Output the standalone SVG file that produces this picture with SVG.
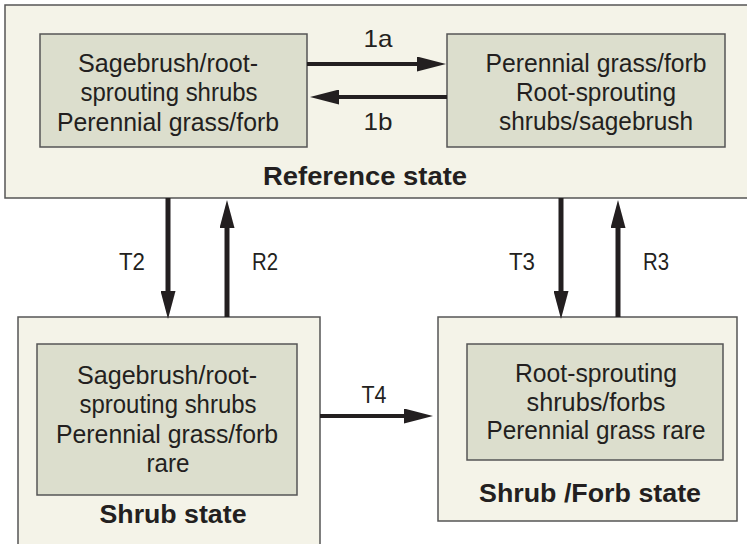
<svg xmlns="http://www.w3.org/2000/svg" width="747" height="544" viewBox="0 0 747 544">
<defs>
<style>
.outer{fill:#f4f3e8;stroke:#555;stroke-width:1.5}
.inner{fill:#dcdecd;stroke:#555;stroke-width:1.5}
.t{font-family:"Liberation Sans",Arial,sans-serif;font-size:26px;fill:#231f20;text-anchor:middle}
.l{font-family:"Liberation Sans",Arial,sans-serif;font-size:24px;fill:#231f20;text-anchor:middle}
.b{font-family:"Liberation Sans",Arial,sans-serif;font-size:25px;font-weight:bold;fill:#231f20;text-anchor:middle}
.c{stroke:#231f20;fill:none}
.h{stroke-width:4;marker-end:url(#ah)}
.v{stroke-width:5;marker-end:url(#av)}
</style>
<marker id="ah" markerUnits="userSpaceOnUse" markerWidth="29" markerHeight="15" refX="0" refY="7.5" orient="auto" viewBox="0 0 29 15">
<path d="M0,0 L29,7.5 L0,15 z" fill="#231f20"/>
</marker>
<marker id="av" markerUnits="userSpaceOnUse" markerWidth="28" markerHeight="15" refX="0" refY="7.5" orient="auto" viewBox="0 0 28 15">
<path d="M0,0 L28,7.5 L0,15 z" fill="#231f20"/>
</marker>
</defs>
<rect width="747" height="544" fill="#ffffff"/>
<g id="reference-state">
<rect class="outer" x="5" y="5" width="747" height="193"/>
<text class="b" x="365" y="185" textLength="204" lengthAdjust="spacingAndGlyphs">Reference state</text>
</g>
<g id="ref-left">
<rect class="inner" x="40" y="34" width="267" height="113"/>
<text class="t" x="168" y="72" textLength="180" lengthAdjust="spacingAndGlyphs">Sagebrush/root-</text>
<text class="t" x="169" y="101" textLength="177" lengthAdjust="spacingAndGlyphs">sprouting shrubs</text>
<text class="t" x="168" y="131" textLength="222" lengthAdjust="spacingAndGlyphs">Perennial grass/forb</text>
</g>
<g id="ref-right">
<rect class="inner" x="447" y="34" width="278" height="113"/>
<text class="t" x="596" y="72" textLength="221" lengthAdjust="spacingAndGlyphs">Perennial grass/forb</text>
<text class="t" x="596" y="101" textLength="160" lengthAdjust="spacingAndGlyphs">Root-sprouting</text>
<text class="t" x="596" y="130" textLength="194" lengthAdjust="spacingAndGlyphs">shrubs/sagebrush</text>
</g>
<g id="shrub-state">
<rect class="outer" x="18" y="317" width="302" height="240"/>
<rect class="inner" x="37" y="344" width="260" height="151"/>
<text class="t" x="167" y="384" textLength="180" lengthAdjust="spacingAndGlyphs">Sagebrush/root-</text>
<text class="t" x="168" y="413" textLength="177" lengthAdjust="spacingAndGlyphs">sprouting shrubs</text>
<text class="t" x="167" y="443" textLength="222" lengthAdjust="spacingAndGlyphs">Perennial grass/forb</text>
<text class="t" x="168" y="472" textLength="43" lengthAdjust="spacingAndGlyphs">rare</text>
<text class="b" x="173" y="523" textLength="147" lengthAdjust="spacingAndGlyphs">Shrub state</text>
</g>
<g id="shrub-forb-state">
<rect class="outer" x="438" y="317" width="299" height="204"/>
<rect class="inner" x="467" y="344" width="256" height="116"/>
<text class="t" x="596" y="382" textLength="162" lengthAdjust="spacingAndGlyphs">Root-sprouting</text>
<text class="t" x="596" y="411" textLength="139" lengthAdjust="spacingAndGlyphs">shrubs/forbs</text>
<text class="t" x="596" y="439" textLength="219" lengthAdjust="spacingAndGlyphs">Perennial grass rare</text>
<text class="b" x="590" y="502" textLength="222" lengthAdjust="spacingAndGlyphs">Shrub /Forb state</text>
</g>
<g id="connectors">
<line class="c h" x1="307" y1="64" x2="417" y2="64"/>
<line class="c h" x1="447" y1="97" x2="339" y2="97"/>
<line class="c v" x1="168" y1="198" x2="168" y2="291"/>
<line class="c v" x1="227" y1="317" x2="227" y2="228"/>
<line class="c v" x1="561" y1="198" x2="561" y2="291"/>
<line class="c v" x1="618" y1="317" x2="618" y2="228"/>
<line class="c h" x1="320" y1="416" x2="404" y2="416"/>
<text class="l" x="378" y="47" textLength="29" lengthAdjust="spacingAndGlyphs">1a</text>
<text class="l" x="378" y="130" textLength="29" lengthAdjust="spacingAndGlyphs">1b</text>
<text class="l" x="132" y="270" textLength="26" lengthAdjust="spacingAndGlyphs">T2</text>
<text class="l" x="265" y="270" textLength="26" lengthAdjust="spacingAndGlyphs">R2</text>
<text class="l" x="522" y="270" textLength="26" lengthAdjust="spacingAndGlyphs">T3</text>
<text class="l" x="656" y="270" textLength="26" lengthAdjust="spacingAndGlyphs">R3</text>
<text class="l" x="374" y="403" textLength="25" lengthAdjust="spacingAndGlyphs">T4</text>
</g>
</svg>
